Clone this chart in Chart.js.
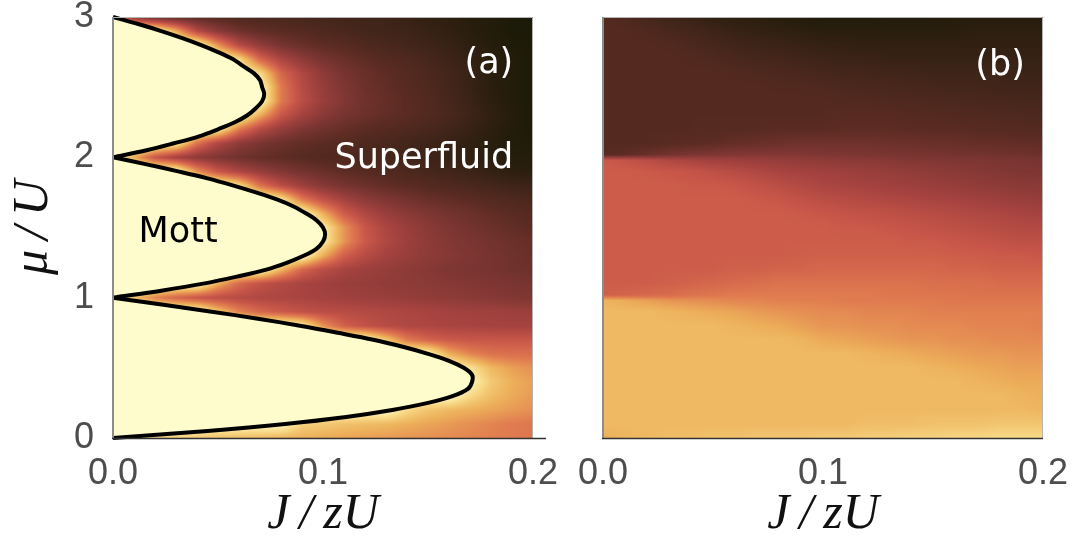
<!DOCTYPE html>
<html>
<head>
<meta charset="utf-8">
<script src="https://cdn.jsdelivr.net/npm/chart.js@4.4.0/dist/chart.umd.min.js"></script>
<style>
  body { margin: 0; background: #fff; }
  canvas { position: absolute; top: 0; }
</style>
</head>
<body>
<canvas id="chartA" width="560" height="542" style="left:0"></canvas>
<canvas id="chartB" width="529" height="542" style="left:560px"></canvas>
<script>
// axis ticks
const jTicks = [0, 0.1, 0.2];
const muTicks = [0, 1, 2, 3];

// heat map grid, J/zU columns (shared by both panels)
const gridJ = [0, 0.01, 0.02, 0.03, 0.04, 0.05, 0.06, 0.07, 0.08, 0.09, 0.1,
  0.11, 0.12, 0.13, 0.14, 0.15, 0.16, 0.17, 0.18, 0.19, 0.2];

// panel (a): rows of mu/U, values on a 0..9 colour scale
const gridMuA = [3, 2.9, 2.8, 2.7, 2.6, 2.5, 2.4, 2.3, 2.2, 2.1, 2, 1.9, 1.8, 1.7, 1.6, 1.5,
  1.4, 1.3, 1.2, 1.1, 1, 0.9, 0.8, 0.7, 0.6, 0.5, 0.4, 0.3, 0.2, 0.1, 0];
const heatA = [
  [6, 3.5, 2.5, 2.2, 2, 1.8, 1.6, 1.5, 1.4, 1.3, 1.2, 1.1, 1, 1, 0.8, 0.6, 0.5, 0.3, 0.2, 0, 0],
  [9, 9, 9, 7, 4.5, 3.3, 2.6, 2.2, 2, 1.8, 1.6, 1.4, 1.2, 1.1, 1, 0.8, 0.6, 0.4, 0.2, 0, 0],
  [9, 9, 9, 9, 9, 6.5, 4.5, 3.5, 2.8, 2.4, 2.1, 1.9, 1.6, 1.4, 1.2, 1, 0.8, 0.5, 0.3, 0.1, 0],
  [9, 9, 9, 9, 9, 9, 8, 5.5, 4.2, 3.4, 2.8, 2.4, 2.1, 1.8, 1.6, 1.3, 1, 0.7, 0.4, 0.2, 0],
  [9, 9, 9, 9, 9, 9, 9, 8, 5.5, 4.3, 3.4, 2.8, 2.4, 2.1, 1.8, 1.5, 1.2, 0.8, 0.4, 0.2, 0],
  [9, 9, 9, 9, 9, 9, 9, 9, 6, 4.5, 3.6, 3, 2.5, 2.2, 1.9, 1.6, 1.2, 0.8, 0.4, 0.2, 0],
  [9, 9, 9, 9, 9, 9, 9, 9, 6, 4.6, 3.7, 3.1, 2.6, 2.3, 2, 1.7, 1.3, 0.9, 0.5, 0.2, 0],
  [9, 9, 9, 9, 9, 9, 9, 7, 5, 4, 3.3, 2.8, 2.5, 2.2, 2, 1.7, 1.4, 1, 0.6, 0.3, 0],
  [9, 9, 9, 9, 9, 8.5, 6, 4.5, 3.6, 3, 2.6, 2.3, 2, 1.8, 1.6, 1.4, 1.1, 0.8, 0.5, 0.2, 0],
  [9, 9, 9, 8.5, 5.8, 4.3, 3.4, 2.9, 2.5, 2.2, 2, 1.8, 1.6, 1.4, 1.2, 1, 0.8, 0.6, 0.4, 0.2, 0.1],
  [9, 7, 5, 4, 3.4, 3, 2.6, 2.3, 2.1, 1.9, 1.7, 1.6, 1.4, 1.3, 1.1, 1, 0.8, 0.6, 0.4, 0.3, 0.2],
  [9, 9, 9, 9, 6.5, 5, 4.2, 3.6, 3.1, 2.7, 2.4, 2.1, 1.9, 1.7, 1.5, 1.3, 1.1, 0.9, 0.7, 0.5, 0.4],
  [9, 9, 9, 9, 9, 9, 8, 5.8, 4.6, 3.8, 3.2, 2.8, 2.5, 2.2, 2, 1.8, 1.6, 1.4, 1.2, 1, 0.9],
  [9, 9, 9, 9, 9, 9, 9, 9, 8.3, 6, 4.8, 4, 3.4, 3, 2.7, 2.4, 2.2, 2, 1.8, 1.6, 1.4],
  [9, 9, 9, 9, 9, 9, 9, 9, 9, 9, 7, 5.2, 4.3, 3.7, 3.3, 3, 2.7, 2.5, 2.2, 2, 1.8],
  [9, 9, 9, 9, 9, 9, 9, 9, 9, 9, 8.5, 6.5, 5, 4.2, 3.7, 3.3, 3, 2.7, 2.5, 2.2, 2],
  [9, 9, 9, 9, 9, 9, 9, 9, 9, 9, 8.5, 6.5, 5.1, 4.3, 3.8, 3.4, 3.1, 2.9, 2.7, 2.5, 2.3],
  [9, 9, 9, 9, 9, 9, 9, 9, 9, 9, 7, 5.3, 4.5, 4, 3.7, 3.4, 3.2, 3, 2.8, 2.6, 2.4],
  [9, 9, 9, 9, 9, 9, 9, 9, 7.2, 5.5, 4.6, 4.1, 3.8, 3.6, 3.4, 3.2, 3, 2.9, 2.8, 2.6, 2.5],
  [9, 9, 9, 9, 9, 7, 5.6, 4.8, 4.4, 4.1, 3.9, 3.7, 3.6, 3.5, 3.4, 3.3, 3.2, 3.1, 3, 2.9, 2.8],
  [9, 7.5, 6.2, 5.5, 5, 4.7, 4.5, 4.3, 4.2, 4.1, 4, 3.9, 3.8, 3.7, 3.6, 3.5, 3.4, 3.3, 3.2, 3.1, 3],
  [9, 9, 9, 9, 9, 7.5, 6.2, 5.5, 5.1, 4.8, 4.6, 4.5, 4.4, 4.3, 4.2, 4.1, 4, 3.9, 3.9, 3.8, 3.8],
  [9, 9, 9, 9, 9, 9, 9, 9, 9, 8.5, 6.5, 5.3, 4.8, 4.5, 4.3, 4.2, 4.1, 4.1, 4, 4, 4],
  [9, 9, 9, 9, 9, 9, 9, 9, 9, 9, 9, 9, 9, 7.5, 6, 5.4, 5.1, 5, 5, 5, 5],
  [9, 9, 9, 9, 9, 9, 9, 9, 9, 9, 9, 9, 9, 9, 9, 8.8, 7, 6.2, 5.8, 5.7, 5.7],
  [9, 9, 9, 9, 9, 9, 9, 9, 9, 9, 9, 9, 9, 9, 9, 9, 9, 8.2, 7.2, 6.7, 6.4],
  [9, 9, 9, 9, 9, 9, 9, 9, 9, 9, 9, 9, 9, 9, 9, 9, 9, 8.8, 7.6, 7, 6.7],
  [9, 9, 9, 9, 9, 9, 9, 9, 9, 9, 9, 9, 9, 9, 9, 9, 9, 8, 7.3, 6.9, 6.6],
  [9, 9, 9, 9, 9, 9, 9, 9, 9, 9, 9, 9, 9, 9, 8, 7.5, 7.2, 7, 6.8, 6.6, 6.4],
  [9, 9, 9, 9, 9, 9, 9, 9, 9, 7.8, 7.6, 7.4, 7.3, 7.2, 7, 6.8, 6.6, 6.4, 6.2, 6, 5.9],
  [9, 8.2, 8, 7.8, 7.6, 7.4, 7.3, 7.2, 7.1, 7, 6.9, 6.8, 6.7, 6.6, 6.5, 6.4, 6.3, 6.2, 6.1, 6, 5.9]
];

// panel (b): rows of mu/U (extra rows around the steps at 1 and 2)
const gridMuB = [3, 2.9, 2.8, 2.7, 2.6, 2.5, 2.4, 2.3, 2.2, 2.1, 2.02, 1.98, 1.9, 1.8, 1.7, 1.6,
  1.5, 1.4, 1.3, 1.2, 1.1, 1.02, 0.98, 0.9, 0.8, 0.7, 0.6, 0.5, 0.4, 0.3, 0.2, 0.1, 0];
const heatB = [
  [1.8, 1.6, 1.3, 1, 0.8, 0.6, 0.5, 0.4, 0.3, 0.2, 0.1, 0.1, 0.1, 0.2, 0.2, 0.2, 0.3, 0.3, 0.3, 0.3, 0.3],
  [1.8, 1.8, 1.6, 1.4, 1.2, 1, 0.8, 0.7, 0.6, 0.5, 0.4, 0.4, 0.4, 0.4, 0.4, 0.4, 0.4, 0.5, 0.5, 0.5, 0.5],
  [1.8, 1.8, 1.8, 1.7, 1.5, 1.3, 1.1, 1, 0.9, 0.8, 0.7, 0.7, 0.6, 0.6, 0.6, 0.6, 0.6, 0.6, 0.6, 0.6, 0.6],
  [1.8, 1.8, 1.8, 1.8, 1.7, 1.6, 1.4, 1.3, 1.2, 1.1, 1, 0.9, 0.9, 0.8, 0.8, 0.8, 0.8, 0.8, 0.8, 0.8, 0.8],
  [1.8, 1.8, 1.8, 1.8, 1.8, 1.8, 1.7, 1.6, 1.5, 1.4, 1.3, 1.2, 1.2, 1.1, 1.1, 1, 1, 1, 1, 0.9, 0.9],
  [1.8, 1.8, 1.8, 1.8, 1.8, 1.8, 1.8, 1.8, 1.7, 1.7, 1.6, 1.5, 1.4, 1.4, 1.3, 1.3, 1.2, 1.2, 1.1, 1.1, 1.1],
  [1.8, 1.8, 1.8, 1.8, 1.8, 1.8, 1.8, 1.8, 1.8, 1.8, 1.8, 1.7, 1.7, 1.6, 1.6, 1.5, 1.5, 1.4, 1.4, 1.3, 1.3],
  [1.8, 1.8, 1.8, 1.8, 1.8, 1.8, 1.8, 1.8, 1.8, 1.8, 1.8, 1.9, 1.9, 1.9, 1.8, 1.8, 1.7, 1.7, 1.6, 1.6, 1.5],
  [1.8, 1.8, 1.8, 1.8, 1.8, 1.85, 1.9, 1.9, 2, 2, 2, 2.1, 2.1, 2.1, 2, 2, 2, 1.9, 1.9, 1.8, 1.8],
  [1.8, 1.8, 1.8, 1.9, 2, 2.1, 2.3, 2.4, 2.5, 2.6, 2.6, 2.6, 2.6, 2.5, 2.5, 2.4, 2.4, 2.3, 2.3, 2.2, 2.2],
  [1.9, 2.1, 2.4, 2.7, 2.9, 3, 3.1, 3.1, 3.1, 3.1, 3, 3, 2.9, 2.9, 2.8, 2.8, 2.7, 2.7, 2.6, 2.6, 2.5],
  [5.1, 4.9, 4.6, 4.3, 4.1, 3.9, 3.8, 3.7, 3.6, 3.5, 3.4, 3.3, 3.3, 3.2, 3.1, 3.1, 3, 3, 2.9, 2.9, 2.8],
  [5.2, 5.2, 5.1, 5, 4.9, 4.7, 4.5, 4.3, 4.1, 4, 3.9, 3.8, 3.7, 3.6, 3.5, 3.4, 3.3, 3.2, 3.1, 3, 3],
  [5.2, 5.2, 5.2, 5.2, 5.1, 5.1, 5, 4.8, 4.6, 4.4, 4.2, 4.1, 4, 3.9, 3.8, 3.7, 3.6, 3.5, 3.4, 3.3, 3.3],
  [5.2, 5.2, 5.2, 5.2, 5.2, 5.2, 5.2, 5.1, 5, 4.8, 4.6, 4.5, 4.4, 4.3, 4.2, 4.1, 4, 3.9, 3.8, 3.7, 3.6],
  [5.2, 5.2, 5.2, 5.2, 5.2, 5.2, 5.2, 5.2, 5.2, 5.1, 5, 4.9, 4.8, 4.7, 4.6, 4.5, 4.4, 4.3, 4.2, 4.1, 4],
  [5.2, 5.2, 5.2, 5.2, 5.2, 5.2, 5.2, 5.2, 5.2, 5.2, 5.2, 5.1, 5.1, 5, 4.9, 4.8, 4.7, 4.6, 4.5, 4.4, 4.4],
  [5.2, 5.2, 5.2, 5.2, 5.2, 5.2, 5.2, 5.2, 5.2, 5.2, 5.2, 5.2, 5.2, 5.2, 5.1, 5.1, 5, 4.9, 4.8, 4.7, 4.7],
  [5.2, 5.2, 5.2, 5.2, 5.2, 5.2, 5.2, 5.2, 5.2, 5.25, 5.3, 5.3, 5.3, 5.3, 5.3, 5.3, 5.2, 5.2, 5.1, 5.1, 5],
  [5.2, 5.2, 5.2, 5.2, 5.2, 5.2, 5.3, 5.3, 5.4, 5.4, 5.5, 5.5, 5.5, 5.5, 5.5, 5.5, 5.4, 5.4, 5.3, 5.3, 5.3],
  [5.2, 5.2, 5.2, 5.3, 5.4, 5.5, 5.6, 5.7, 5.8, 5.8, 5.8, 5.8, 5.8, 5.8, 5.8, 5.7, 5.7, 5.7, 5.6, 5.6, 5.6],
  [5.3, 5.4, 5.5, 5.6, 5.8, 5.9, 6, 6, 6, 6, 6, 6, 6, 5.9, 5.9, 5.9, 5.9, 5.8, 5.8, 5.8, 5.8],
  [7.1, 6.9, 6.7, 6.5, 6.4, 6.3, 6.2, 6.2, 6.1, 6.1, 6.1, 6, 6, 6, 6, 6, 5.9, 5.9, 5.9, 5.9, 5.9],
  [7.2, 7.2, 7.2, 7.1, 7, 6.9, 6.8, 6.6, 6.5, 6.4, 6.3, 6.3, 6.2, 6.2, 6.2, 6.1, 6.1, 6.1, 6.1, 6.1, 6.1],
  [7.2, 7.2, 7.2, 7.2, 7.2, 7.2, 7.1, 7, 6.9, 6.7, 6.5, 6.5, 6.4, 6.4, 6.3, 6.3, 6.3, 6.2, 6.2, 6.2, 6.1],
  [7.2, 7.2, 7.2, 7.2, 7.2, 7.2, 7.2, 7.2, 7.2, 7.1, 6.9, 6.8, 6.7, 6.6, 6.5, 6.5, 6.4, 6.4, 6.3, 6.3, 6.3],
  [7.2, 7.2, 7.2, 7.2, 7.2, 7.2, 7.2, 7.2, 7.2, 7.2, 7.2, 7.2, 7.1, 7, 6.9, 6.8, 6.7, 6.6, 6.6, 6.5, 6.5],
  [7.2, 7.2, 7.2, 7.2, 7.2, 7.2, 7.2, 7.2, 7.2, 7.2, 7.2, 7.2, 7.2, 7.2, 7.2, 7.1, 7, 6.9, 6.8, 6.7, 6.7],
  [7.2, 7.2, 7.2, 7.2, 7.2, 7.2, 7.2, 7.2, 7.2, 7.2, 7.2, 7.2, 7.2, 7.2, 7.2, 7.2, 7.2, 7.1, 7, 6.9, 6.9],
  [7.2, 7.2, 7.2, 7.2, 7.2, 7.2, 7.2, 7.2, 7.2, 7.2, 7.2, 7.2, 7.2, 7.2, 7.2, 7.2, 7.2, 7.2, 7.2, 7.1, 7],
  [7.2, 7.2, 7.2, 7.2, 7.2, 7.2, 7.2, 7.2, 7.2, 7.2, 7.2, 7.2, 7.2, 7.2, 7.2, 7.2, 7.2, 7.2, 7.2, 7.2, 7.1],
  [7.2, 7.2, 7.2, 7.2, 7.2, 7.2, 7.2, 7.2, 7.2, 7.2, 7.2, 7.2, 7.3, 7.3, 7.3, 7.4, 7.4, 7.4, 7.5, 7.5, 7.5],
  [7, 7.1, 7.2, 7.3, 7.3, 7.4, 7.4, 7.5, 7.5, 7.5, 7.6, 7.6, 7.7, 7.7, 7.8, 7.8, 7.9, 7.9, 8, 8, 8]
];

// Mott lobe boundaries: mu/U = n + lobeFrac, J/zU
const lobeFrac = [0, 0.05, 0.1, 0.15, 0.2, 0.25, 0.3, 0.35, 0.4, 0.45, 0.5,
  0.55, 0.6, 0.65, 0.7, 0.75, 0.8, 0.85, 0.9, 0.95, 1];
const lobe1J = [0, 0.045, 0.082, 0.111, 0.133, 0.15, 0.162, 0.169, 0.171, 0.171, 0.167,
  0.16, 0.15, 0.138, 0.124, 0.107, 0.089, 0.069, 0.047, 0.024, 0];
const lobe2J = [0, 0.023, 0.043, 0.059, 0.073, 0.083, 0.091, 0.097, 0.1, 0.101, 0.1,
  0.097, 0.092, 0.086, 0.078, 0.068, 0.057, 0.045, 0.031, 0.016, 0];
const lobe3J = [0, 0.016, 0.029, 0.041, 0.05, 0.058, 0.064, 0.068, 0.071, 0.072, 0.071,
  0.07, 0.067, 0.062, 0.057, 0.05, 0.042, 0.033, 0.023, 0.012, 0];

// colour scale, dark -> light
const sunset = ['#1c1a08', '#3e2418', '#5a2b22', '#7e3633', '#a4423f',
  '#c85649', '#e07a4f', '#edb05a', '#f8da88', '#fefccd'];
const cmap = sunset.map(h => {
  const n = parseInt(h.slice(1), 16);
  return [n >> 16, (n >> 8) & 255, n & 255];
});

const colorFor = (v) => {
  v = Math.max(0, Math.min(cmap.length - 1, v));
  const i = Math.min(cmap.length - 2, Math.floor(v));
  const t = v - i;
  const a = cmap[i], b = cmap[i + 1];
  return [a[0] + (b[0] - a[0]) * t, a[1] + (b[1] - a[1]) * t, a[2] + (b[2] - a[2]) * t];
};

const clamp01 = (t) => Math.max(0, Math.min(1, t));

const sampleGrid = (rows, vals, mu, j) => {
  let i = 0;
  while (i < rows.length - 2 && mu < rows[i + 1]) i++;
  let k = 0;
  while (k < gridJ.length - 2 && j > gridJ[k + 1]) k++;
  const ty = clamp01((rows[i] - mu) / (rows[i] - rows[i + 1]));
  const tx = clamp01((j - gridJ[k]) / (gridJ[k + 1] - gridJ[k]));
  const top = vals[i][k] * (1 - tx) + vals[i][k + 1] * tx;
  const bot = vals[i + 1][k] * (1 - tx) + vals[i + 1][k + 1] * tx;
  return top * (1 - ty) + bot * ty;
};

// paints the grid into the chart area using the chart's own scales
const heatmapPlugin = (rows, vals) => ({
  id: 'heatmap',
  beforeDatasetsDraw(chart) {
    const { ctx, chartArea: area, scales } = chart;
    const w = Math.round(area.right - area.left);
    const h = Math.round(area.bottom - area.top);
    const off = document.createElement('canvas');
    off.width = w;
    off.height = h;
    const octx = off.getContext('2d');
    const img = octx.createImageData(w, h);
    for (let py = 0; py < h; py++) {
      const mu = scales.y.getValueForPixel(area.top + py + 0.5);
      for (let px = 0; px < w; px++) {
        const j = scales.x.getValueForPixel(area.left + px + 0.5);
        const c = colorFor(sampleGrid(rows, vals, mu, j));
        const p = (py * w + px) * 4;
        img.data[p] = c[0];
        img.data[p + 1] = c[1];
        img.data[p + 2] = c[2];
        img.data[p + 3] = 255;
      }
    }
    octx.putImageData(img, 0, 0);
    ctx.drawImage(off, area.left, area.top, w, h);
  }
});

// axis lines in the Mathematica look
const framePlugin = (extra) => ({
  id: 'frame',
  afterDatasetsDraw(chart) {
    const { ctx, chartArea: a } = chart;
    ctx.save();
    ctx.strokeStyle = '#b4b4b4';
    ctx.lineWidth = 1;
    ctx.beginPath();
    ctx.moveTo(a.left, a.top + 0.5);
    ctx.lineTo(a.right - 0.5, a.top + 0.5);
    ctx.lineTo(a.right - 0.5, a.bottom);
    ctx.stroke();
    ctx.strokeStyle = '#8c8c8c';
    ctx.lineWidth = 2;
    ctx.beginPath();
    ctx.moveTo(a.left, a.top);
    ctx.lineTo(a.left, a.bottom);
    ctx.stroke();
    ctx.strokeStyle = '#333';
    ctx.lineWidth = 1.5;
    ctx.beginPath();
    ctx.moveTo(a.left - 1, a.bottom + 0.5);
    ctx.lineTo(a.right + extra, a.bottom + 0.5);
    ctx.stroke();
    ctx.restore();
  }
});

const textPlugin = (items) => ({
  id: 'texts',
  afterDatasetsDraw(chart) {
    const { ctx, scales: { x, y } } = chart;
    ctx.save();
    ctx.font = '35px "DejaVu Sans"';
    ctx.textAlign = 'center';
    ctx.textBaseline = 'alphabetic';
    items.forEach(t => {
      ctx.fillStyle = t.color;
      ctx.fillText(t.text, x.getPixelForValue(t.j), y.getPixelForValue(t.mu));
    });
    ctx.restore();
  }
});

const tickFont = { family: '"Liberation Sans", Arial, sans-serif', size: 36 };
const titleFont = { family: '"Liberation Serif", "Times New Roman", serif', style: 'italic', size: 50, lineHeight: 1.1 };
const tickColor = '#4d4d4d';

const scalesFor = (showY, yWidth) => ({
  x: {
    type: 'linear', min: 0, max: 0.2,
    afterBuildTicks: s => { s.ticks = jTicks.map(v => ({ value: v })); },
    afterFit: s => { s.height = 104; s.paddingLeft = 0; s.paddingRight = 0; },
    grid: { display: false, drawTicks: false },
    border: { display: false },
    ticks: { font: tickFont, color: tickColor, padding: 14, autoSkip: false, maxRotation: 0,
      callback: v => Number(v).toFixed(1) },
    title: { display: true, text: 'J\u2009/\u2009zU', font: titleFont, color: '#111', padding: 0 }
  },
  y: {
    type: 'linear', min: 0, max: 3,
    afterBuildTicks: s => { s.ticks = muTicks.map(v => ({ value: v })); },
    afterFit: s => { s.width = yWidth; s.paddingTop = 0; s.paddingBottom = 0; },
    grid: { display: false, drawTicks: false },
    border: { display: false },
    ticks: { display: showY, font: tickFont, color: tickColor, padding: 19, autoSkip: false,
      callback: v => String(v) },
    title: { display: showY, text: '\u03bc\u2009/\u2009U', font: titleFont, color: '#111', padding: { top: 6 } }
  }
});

const baseOptions = (showY, yWidth, right) => ({
  responsive: false,
  animation: false,
  devicePixelRatio: 1,
  events: [],
  layout: { padding: { left: 0, top: 17, right: right, bottom: 0 } },
  plugins: { legend: { display: false }, tooltip: { enabled: false } },
  scales: scalesFor(showY, yWidth)
});

const lobe = (base, js) => ({
  data: lobeFrac.map((f, i) => ({ x: js[i], y: base + f })),
  showLine: true,
  borderColor: '#000',
  borderWidth: 4,
  pointRadius: 0,
  tension: 0.35,
  fill: 'shape',
  backgroundColor: '#fefccd',
  clip: 4
});

new Chart(document.getElementById('chartA'), {
  type: 'scatter',
  data: { datasets: [lobe(0, lobe1J), lobe(1, lobe2J), lobe(2, lobe3J)] },
  options: baseOptions(true, 113, 27),
  plugins: [
    heatmapPlugin(gridMuA, heatA),
    framePlugin(13),
    textPlugin([
      { j: 0.179, mu: 2.6, text: '(a)', color: '#fff' },
      { j: 0.148, mu: 1.924, text: 'Superfluid', color: '#fff' },
      { j: 0.031, mu: 1.397, text: 'Mott', color: '#000' }
    ])
  ]
});

new Chart(document.getElementById('chartB'), {
  type: 'scatter',
  data: { datasets: [] },
  options: baseOptions(false, 43, 46),
  plugins: [
    heatmapPlugin(gridMuB, heatB),
    framePlugin(0),
    textPlugin([
      { j: 0.1805, mu: 2.587, text: '(b)', color: '#fff' }
    ])
  ]
});
</script>
</body>
</html>
